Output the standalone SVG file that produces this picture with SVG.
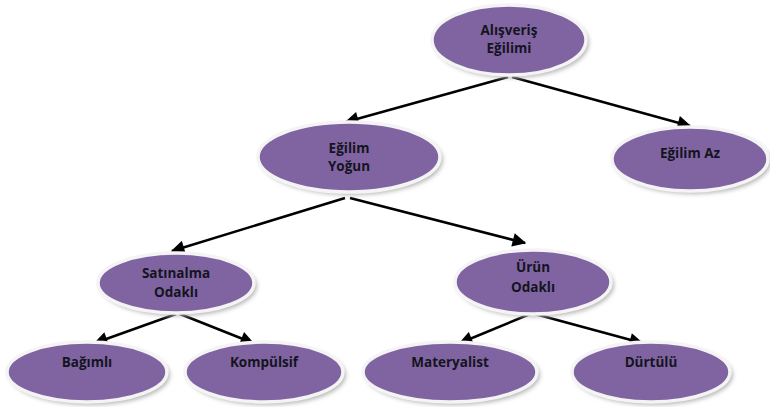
<svg xmlns="http://www.w3.org/2000/svg" width="770" height="407" viewBox="0 0 770 407">
<defs>
<filter id="sh" x="-20%" y="-20%" width="140%" height="150%">
<feGaussianBlur stdDeviation="2"/>
</filter>
<marker id="ah" viewBox="0 0 10 10" refX="9" refY="5" markerWidth="6" markerHeight="5.5" markerUnits="strokeWidth" orient="auto">
<path d="M0,0 L10,5 L0,10 z" fill="#000"/>
</marker>
</defs>
<style>
.s{fill:#b8b8b8;filter:url(#sh)}
.e{fill:#8064a2;stroke:#f4f4f4;stroke-width:3.5}
.t{font-family:"Open Sans",Lato,sans-serif;font-weight:bold;font-size:13.5px;fill:#14141e;text-anchor:middle}
.c{stroke:#000;stroke-width:2.5;fill:none;marker-end:url(#ah)}
</style>
<rect width="770" height="407" fill="#fff"/>
<g id="connectors">
<line class="c" x1="508" y1="77" x2="346" y2="122"/>
<line class="c" x1="512" y1="77" x2="690" y2="126"/>
<line class="c" x1="345" y1="198" x2="172" y2="251"/>
<line class="c" x1="350" y1="198" x2="525" y2="243"/>
<line class="c" x1="176" y1="314" x2="95" y2="343"/>
<line class="c" x1="180" y1="314" x2="253" y2="343"/>
<line class="c" x1="530" y1="314" x2="460" y2="343"/>
<line class="c" x1="535" y1="314" x2="642" y2="343"/>
</g>
<g id="n1">
<ellipse class="s" cx="512" cy="43" rx="77" ry="35"/>
<ellipse class="e" cx="509" cy="40" rx="77" ry="35"/>
<text class="t" x="509" y="35">Alışveriş</text>
<text class="t" x="509" y="53">Eğilimi</text>
</g>
<g id="n2">
<ellipse class="s" cx="352" cy="160" rx="91" ry="35"/>
<ellipse class="e" cx="349" cy="157" rx="91" ry="35"/>
<text class="t" x="349" y="153">Eğilim</text>
<text class="t" x="349" y="171">Yoğun</text>
</g>
<g id="n3">
<ellipse class="s" cx="693" cy="162" rx="78" ry="32"/>
<ellipse class="e" cx="690" cy="159" rx="78" ry="32"/>
<text class="t" x="690" y="158">Eğilim Az</text>
</g>
<g id="n4">
<ellipse class="s" cx="179" cy="286" rx="78" ry="30"/>
<ellipse class="e" cx="176" cy="283" rx="78" ry="30"/>
<text class="t" x="176" y="278">Satınalma</text>
<text class="t" x="176" y="297">Odaklı</text>
</g>
<g id="n5">
<ellipse class="s" cx="536" cy="285" rx="78" ry="32"/>
<ellipse class="e" cx="533" cy="282" rx="78" ry="32"/>
<text class="t" x="533" y="272">Ürün</text>
<text class="t" x="533" y="292">Odaklı</text>
</g>
<g id="n6">
<ellipse class="s" cx="90" cy="375" rx="80" ry="30"/>
<ellipse class="e" cx="87" cy="372" rx="80" ry="30"/>
<text class="t" x="87" y="367">Bağımlı</text>
</g>
<g id="n7">
<ellipse class="s" cx="267" cy="375" rx="79" ry="30"/>
<ellipse class="e" cx="264" cy="372" rx="79" ry="30"/>
<text class="t" x="264" y="367">Kompülsif</text>
</g>
<g id="n8">
<ellipse class="s" cx="453" cy="375" rx="87" ry="30"/>
<ellipse class="e" cx="450" cy="372" rx="87" ry="30"/>
<text class="t" x="450" y="367">Materyalist</text>
</g>
<g id="n9">
<ellipse class="s" cx="654" cy="375" rx="79" ry="30"/>
<ellipse class="e" cx="651" cy="372" rx="79" ry="30"/>
<text class="t" x="651" y="367">Dürtülü</text>
</g>
</svg>
